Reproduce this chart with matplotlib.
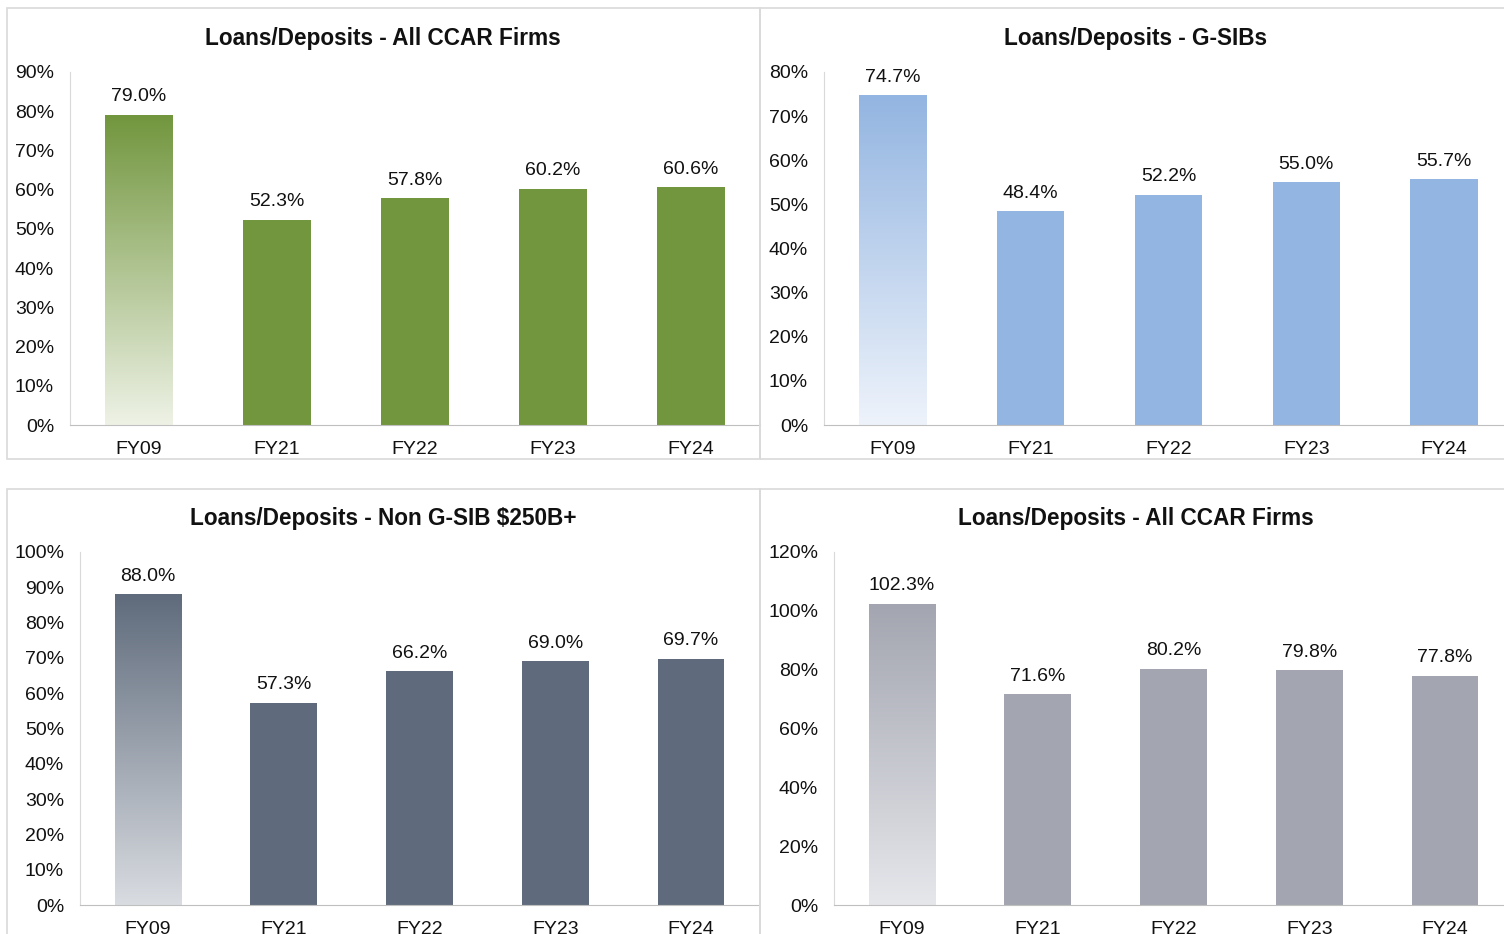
import numpy as np
import matplotlib.pyplot as plt
from matplotlib.patches import Rectangle
from matplotlib.colors import LinearSegmentedColormap

plt.rcParams['font.family'] = ['Liberation Sans', 'DejaVu Sans']

years = ['FY09', 'FY21', 'FY22', 'FY23', 'FY24']

all_ccar = [79.0, 52.3, 57.8, 60.2, 60.6]
gsibs = [74.7, 48.4, 52.2, 55.0, 55.7]
non_gsib = [88.0, 57.3, 66.2, 69.0, 69.7]
all_ccar_2 = [102.3, 71.6, 80.2, 79.8, 77.8]

W, H = 1504, 934
fig = plt.figure(figsize=(W / 100, H / 100), dpi=100)

# panel frames (pixels: x0, y0, x1, y1)
for x0, y0, x1, y1 in [(7, 8, 760, 459), (760, 8, 1520, 459),
                       (7, 489, 760, 950), (760, 489, 1520, 950)]:
    fig.patches.append(Rectangle((x0 / W, 1 - y1 / H), (x1 - x0) / W, (y1 - y0) / H,
                                 transform=fig.transFigure, fill=False,
                                 edgecolor='#D9D9D9', linewidth=1.2))


def panel(px, title, vals, ymax, color, light, title_xy):
    l, r, t, b = px
    ax = fig.add_axes([l / W, 1 - b / H, (r - l) / W, (b - t) / H])
    x = np.arange(len(years))
    bars = ax.bar(x, vals, width=0.49, color=color, zorder=2)
    # gradient on first bar
    first = bars[0]
    first.set_facecolor('none')
    cmap = LinearSegmentedColormap.from_list('g', [light, color])
    grad = np.linspace(0, 1, 256).reshape(-1, 1)
    bx, bw, bh = first.get_x(), first.get_width(), first.get_height()
    im = ax.imshow(grad, cmap=cmap, origin='lower', aspect='auto',
                   extent=[bx, bx + bw, 0, bh], zorder=2)
    im.set_clip_path(first)
    for xi, v in zip(x, vals):
        ax.annotate(f'{v:.1f}%', (xi, v), xytext=(0, 7), textcoords='offset points',
                    ha='center', va='bottom', fontsize=14, color='#111111')
    ax.set_xlim(-0.5, len(years) - 0.5)
    ax.set_ylim(0, ymax)
    step = 10 if ymax <= 100 else 20
    ticks = np.arange(0, ymax + 0.1, step)
    ax.set_yticks(ticks)
    ax.set_yticklabels([f'{int(t)}%' for t in ticks])
    ax.set_xticks(x)
    ax.set_xticklabels(years)
    ax.tick_params(length=0, labelsize=14, colors='#111111')
    ax.tick_params(axis='y', pad=11.5)
    ax.tick_params(axis='x', pad=11.5)
    for s in ['top', 'right']:
        ax.spines[s].set_visible(False)
    ax.spines['left'].set_color('#D9D9D9')
    ax.spines['bottom'].set_color('#BFBFBF')
    tx, ty = title_xy
    fig.text(tx / W, 1 - ty / H, title, ha='center', va='center',
             fontsize=16.3, fontweight='bold', color='#111111')
    return ax


panel((70, 760, 72, 425), 'Loans/Deposits - All CCAR Firms', all_ccar, 90,
      '#72963E', '#EEF2E6', (383, 38))
panel((824, 1513, 72, 425), 'Loans/Deposits - G-SIBs', gsibs, 80,
      '#93B5E1', '#EEF3FB', (1136, 38))
panel((80, 759, 552, 905), 'Loans/Deposits - Non G-SIB $250B+', non_gsib, 100,
      '#5F6B7C', '#D9DCE1', (383, 518))
panel((834, 1513, 552, 905), 'Loans/Deposits - All CCAR Firms', all_ccar_2, 120,
      '#A3A5B0', '#E6E7EB', (1136, 518))

fig.savefig('out.png', dpi=100)
